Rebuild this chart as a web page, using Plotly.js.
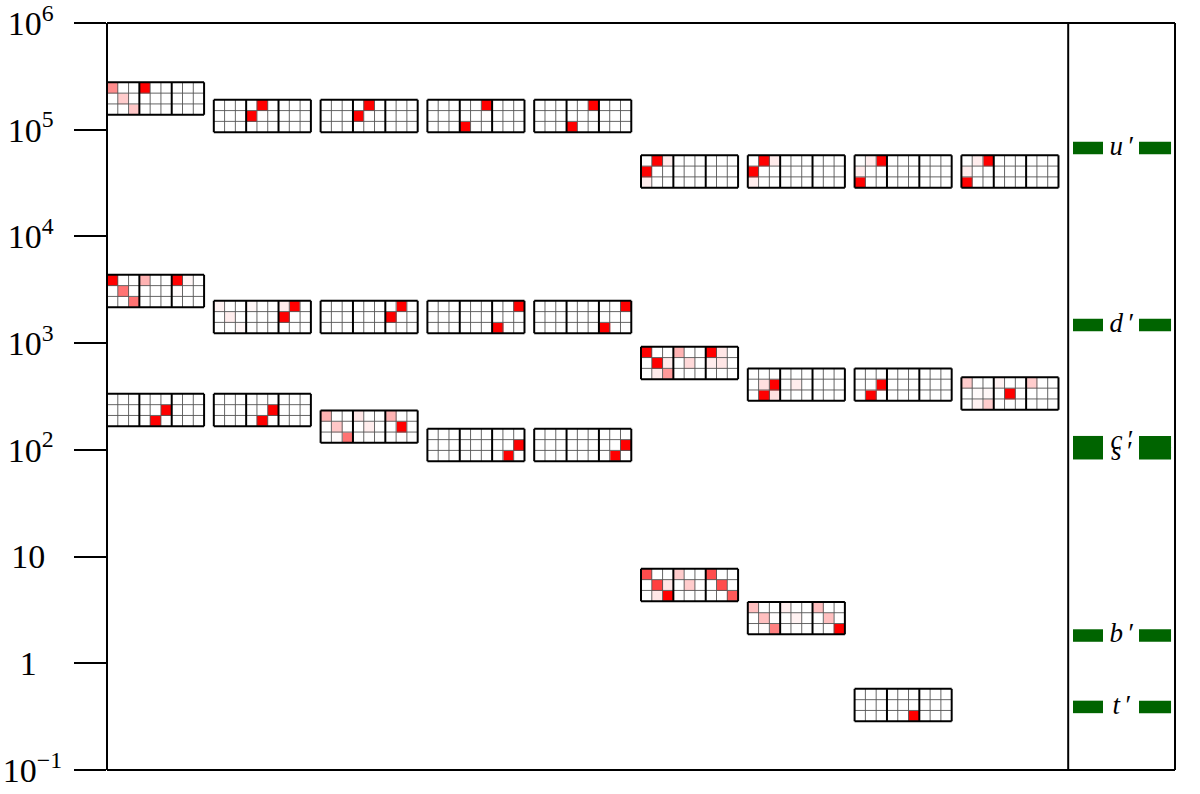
<!DOCTYPE html>
<html>
<head>
<meta charset="utf-8">
<script src="https://cdn.plot.ly/plotly-3.0.1.min.js"></script>
<style>html,body{margin:0;padding:0;background:#fff}#chart{width:1200px;height:794px}</style>
</head>
<body>
<div id="chart"></div>
<script>
// Column of each glyph along the x axis
const glyphColumns = [0,1,2,3,4,5,6,7,8, 0,1,2,3,4,5,6,7,8, 0,1,2,3,4, 5,6, 7];
// Central value of each glyph on the log axis
const glyphValues = [
  196000,134500,134500,134500,134500,40600,40600,40600,40600,
  3080,1758,1758,1758,1758,652,409,409,337,
  236,236,165,111,111,
  5.41,2.65,
  0.406
];
// Cell intensities of each glyph: 3 rows (top to bottom), each 3 blocks of 3
const glyphCells = [
  [[.45,0,0,1,0,0,0,0,0],[0,.2,0,0,0,0,0,0,0],[0,0,.22,0,0,0,0,0,0]],
  [[0,0,0,0,1,0,0,0,0],[0,0,0,1,0,0,0,0,0],[0,0,0,0,0,0,0,0,0]],
  [[0,0,0,0,1,0,0,0,0],[0,0,0,1,0,0,0,0,0],[0,0,0,0,0,0,0,0,0]],
  [[0,0,0,0,0,1,0,0,0],[0,0,0,0,0,0,0,0,0],[0,0,0,1,0,0,0,0,0]],
  [[0,0,0,0,0,1,0,0,0],[0,0,0,0,0,0,0,0,0],[0,0,0,1,0,0,0,0,0]],
  [[0,1,.07,0,0,0,0,0,0],[1,0,0,0,0,0,0,0,0],[.07,0,0,0,0,0,0,0,0]],
  [[0,1,.08,0,0,0,0,0,0],[1,0,0,0,0,0,0,0,0],[.07,0,0,0,0,0,0,0,0]],
  [[0,.07,1,0,0,0,0,0,0],[.07,0,0,0,0,0,0,0,0],[1,0,0,0,0,0,0,0,0]],
  [[0,.07,1,0,0,0,0,0,0],[.07,0,0,0,0,0,0,0,0],[1,0,0,0,0,0,0,0,0]],

  [[1,0,0,.3,0,0,1,.04,0],[0,.55,0,0,0,0,.02,0,0],[0,0,.55,0,0,0,0,0,0]],
  [[.05,0,0,.03,0,0,.08,1,0],[0,.07,0,0,0,0,1,0,0],[0,0,.03,0,0,0,0,0,0]],
  [[0,0,0,0,0,0,0,1,0],[0,0,0,0,0,0,1,0,0],[0,0,0,0,0,0,0,0,0]],
  [[0,0,0,0,0,0,0,0,1],[0,0,0,0,0,0,0,0,0],[0,0,0,0,0,0,1,0,0]],
  [[0,0,0,0,0,0,0,0,1],[0,0,0,0,0,0,0,0,0],[0,0,0,0,0,0,1,0,0]],
  [[1,0,0,.3,0,0,1,.1,0],[0,1,.08,0,.15,0,.07,.1,0],[0,.08,.4,0,0,0,0,0,0]],
  [[0,0,0,0,0,0,0,0,0],[0,.12,1,0,.07,0,0,0,0],[0,1,.12,0,0,0,0,0,0]],
  [[0,0,0,0,0,0,0,0,0],[0,0,1,0,0,0,0,0,0],[0,1,0,0,0,0,0,0,0]],
  [[.2,0,0,.05,0,0,.2,0,0],[0,.02,.03,0,1,0,0,0,0],[0,.05,.2,0,0,0,0,0,0]],

  [[0,0,0,0,0,0,0,0,0],[0,0,0,0,0,1,0,0,0],[0,0,0,0,1,0,0,0,0]],
  [[0,0,0,0,0,0,0,0,0],[0,0,0,0,0,1,0,0,0],[0,0,0,0,1,0,0,0,0]],
  [[.3,0,0,.1,0,0,.3,0,0],[0,.22,0,0,.07,0,0,1,0],[0,.02,.55,0,0,0,0,0,0]],
  [[0,0,0,0,0,0,0,0,0],[0,0,0,0,0,0,0,0,1],[0,0,0,0,0,0,0,1,0]],
  [[0,0,0,0,0,0,0,0,0],[0,0,0,0,0,0,0,0,1],[0,0,0,0,0,0,0,1,0]],

  [[.7,0,0,.2,0,0,.7,0,0],[0,.75,.1,0,.2,0,0,.7,0],[0,.1,1,0,0,0,0,0,.65]],
  [[.25,0,0,.07,0,0,.25,0,0],[0,.25,.01,0,.05,0,0,.25,0],[0,.01,.5,0,0,0,0,0,1]],

  [[0,0,0,0,0,0,0,0,0],[0,0,0,0,0,0,0,0,0],[0,0,0,0,0,1,0,0,0]]
];
// Side panel levels
const levelLabels = ["u","d","c","s","b","t"];
const levelValues = [67400,1479,118,93,1.82,0.39];
const levelLeftBar = [9.045,9.326];
const levelRightBar = [9.663,9.963];
const levelLabelX = 9.504;
// Axis ticks
const tickValues = [0.1,1,10,100,1000,10000,100000,1000000];
const tickLabels = ["10<sup>\u22121</sup>","1\u00a0\u00a0\u00a0","10\u00a0\u00a0","10<sup>2</sup>\u00a0","10<sup>3</sup>\u00a0","10<sup>4</sup>\u00a0","10<sup>5</sup>\u00a0","10<sup>6</sup>\u00a0"];

const cellW = 0.101, cellDec = 0.1012;
const serif = '"Liberation Serif", serif';
const traces = [];

glyphCells.forEach((rows, g) => {
  const col = glyphColumns[g], v = glyphValues[g];
  const xs = [], ys = [];
  for (let i = 0; i <= 9; i++) xs.push(col + i * cellW);
  for (let j = 0; j <= 3; j++) ys.push(v * Math.pow(10, (j - 1.5) * cellDec));
  traces.push({
    type: "heatmap", x: xs, y: ys, z: rows.slice().reverse(),
    zmin: 0, zmax: 1, showscale: false, hoverinfo: "skip", xgap: 0, ygap: 0,
    colorscale: [[0, "#ffffff"], [1, "#ff0000"]]
  });
});

const thinX = [], thinY = [], thickX = [], thickY = [];
glyphColumns.forEach((col, g) => {
  const v = glyphValues[g];
  const yAt = j => v * Math.pow(10, (j - 1.5) * cellDec);
  for (let i = 0; i <= 9; i++) {
    const tx = i % 3 === 0 ? thickX : thinX, ty = i % 3 === 0 ? thickY : thinY;
    tx.push(col + i * cellW, col + i * cellW, null);
    ty.push(yAt(0), yAt(3), null);
  }
  for (let j = 0; j <= 3; j++) {
    const tx = j % 3 === 0 ? thickX : thinX, ty = j % 3 === 0 ? thickY : thinY;
    tx.push(col, col + 9 * cellW, null);
    ty.push(yAt(j), yAt(j), null);
  }
});
traces.push({type:"scatter",mode:"lines",x:thinX,y:thinY,line:{color:"#555555",width:0.9},hoverinfo:"skip",cliponaxis:false});
traces.push({type:"scatter",mode:"lines",x:thickX,y:thickY,line:{color:"#000000",width:2},hoverinfo:"skip",cliponaxis:false});

levelValues.forEach(v => {
  [levelLeftBar, levelRightBar].forEach(bar => {
    traces.push({type:"scatter",mode:"lines",x:bar,y:[v,v],line:{color:"#006400",width:12.5},hoverinfo:"skip"});
  });
});
traces.push({
  type:"scatter",mode:"text",
  x:levelValues.map(() => levelLabelX),y:levelValues,
  text:levelLabels.map(l => "<i>"+l+"</i>\u2009\u2032"),
  textposition:"middle center",
  textfont:{family:serif,size:27,color:"#000"},
  hoverinfo:"skip"
});

const frameLine = {color:"#000",width:2};
const layout = {
  width:1200,height:794,
  margin:{l:107,r:25,t:23,b:24,pad:0},
  paper_bgcolor:"#fff",plot_bgcolor:"#fff",
  showlegend:false,
  xaxis:{type:"linear",range:[0,10],showgrid:false,zeroline:false,showticklabels:false,ticks:"",showline:false},
  yaxis:{type:"log",range:[-1,6],showgrid:false,zeroline:false,tickmode:"array",
    tickvals:tickValues,ticktext:tickLabels,ticks:"outside",ticklen:32,tickwidth:2,tickcolor:"#000",
    ticklabelstandoff:5,ticklabeloverflow:"allow",
    tickfont:{family:serif,size:34,color:"#000"},
    showline:false},
  shapes:[
    {type:"line",xref:"paper",yref:"paper",x0:0,x1:0,y0:0,y1:1,line:frameLine},
    {type:"line",xref:"paper",yref:"paper",x0:1,x1:1,y0:0,y1:1,line:frameLine},
    {type:"line",xref:"paper",yref:"paper",x0:0,x1:1,y0:0,y1:0,line:frameLine},
    {type:"line",xref:"paper",yref:"paper",x0:0,x1:1,y0:1,y1:1,line:frameLine},
    {type:"line",xref:"x",yref:"paper",x0:9,x1:9,y0:0,y1:1,line:frameLine}
  ]
};
Plotly.newPlot("chart",traces,layout,{displayModeBar:false,staticPlot:true});
</script>
</body>
</html>
